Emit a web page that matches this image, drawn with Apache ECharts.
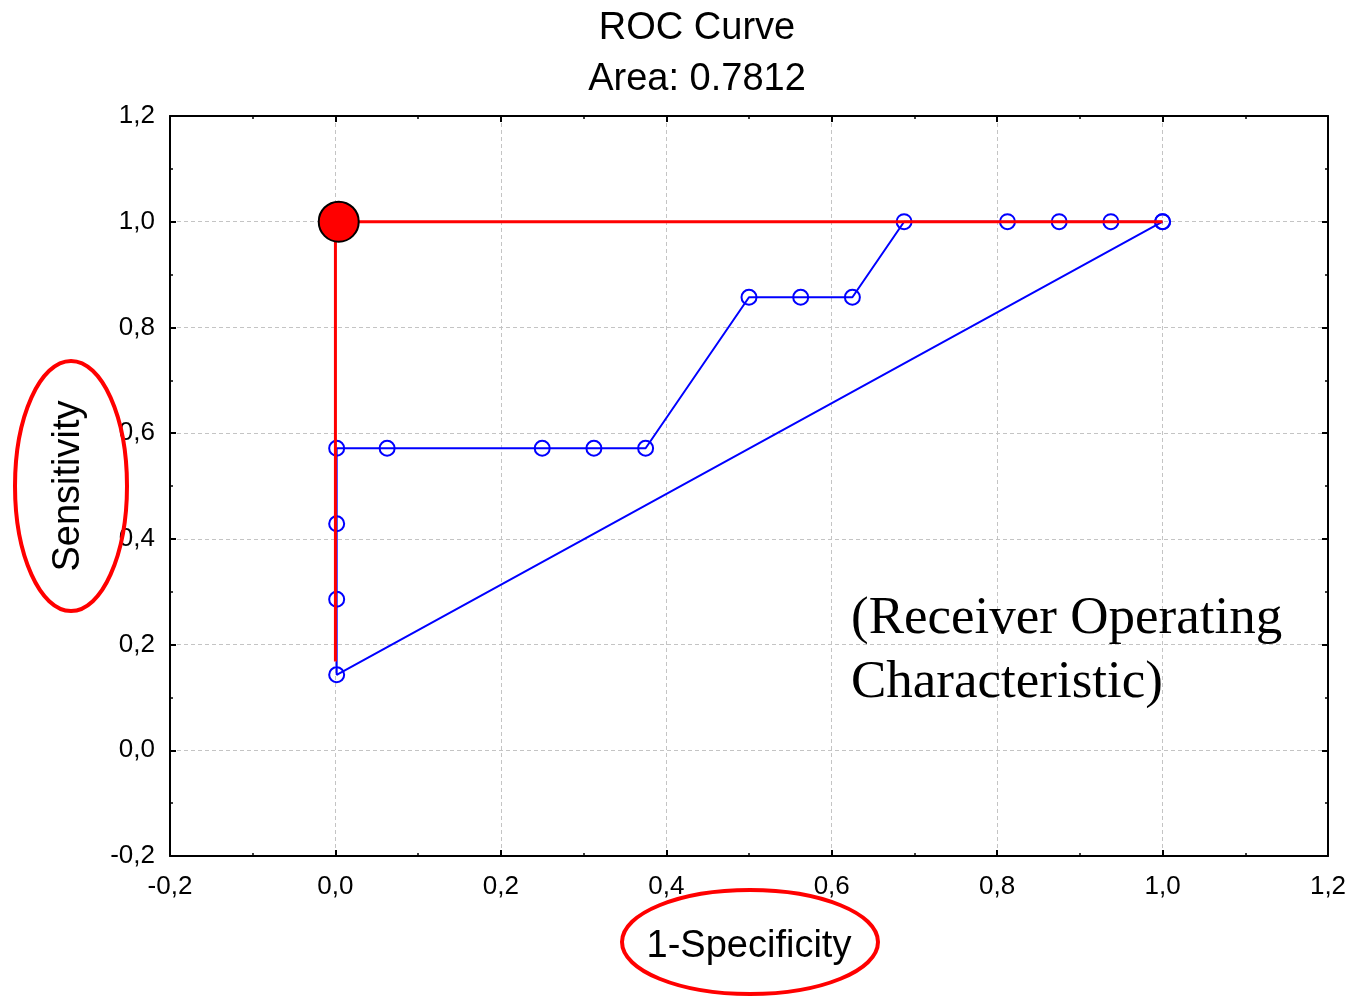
<!DOCTYPE html>
<html>
<head>
<meta charset="utf-8">
<title>ROC Curve</title>
<script src="https://cdn.jsdelivr.net/npm/echarts@6/dist/echarts.min.js"></script>
<style>
  html, body { margin: 0; padding: 0; background: #ffffff; }
  #chart { width: 1352px; height: 996px; }
</style>
</head>
<body>
<div id="chart"></div>
<script>
// ROC operating points: 1-Specificity (x) and Sensitivity (y), in plotting order
const rocFpr  = [1.0, 0.9375, 0.875, 0.8125, 0.6875, 0.625, 0.5625, 0.5, 0.375, 0.3125, 0.25, 0.0625, 0.0015, 0.0015, 0.0015, 0.0015, 1.0];
const rocTpr  = [1.0, 1.0, 1.0, 1.0, 1.0, 0.8571, 0.8571, 0.8571, 0.5714, 0.5714, 0.5714, 0.5714, 0.5714, 0.4286, 0.2857, 0.1429, 1.0];

// Ideal classifier path and its optimal point
const idealX = [0.0, 0.0, 1.0];
const idealY = [0.168, 1.0, 1.0];
const optimalPoint = [0.004, 1.0];

// Axis ranges and ticks
const axisMin = -0.2;
const axisMax = 1.2;
const axisStep = 0.2;

const titleLines = ['ROC Curve', 'Area: 0.7812'];
const xName = '1-Specificity';
const yName = 'Sensitivity';
const noteLines = ['(Receiver Operating', 'Characteristic)'];

const fmt = v => v.toFixed(1).replace('.', ',');
const sans = '"Liberation Sans", Arial, sans-serif';

const rocData = rocFpr.map((x, i) => [x, rocTpr[i]]);
const idealData = idealX.map((x, i) => [x, idealY[i]]);

function axis(pos, primary) {
  return {
    type: 'value',
    position: pos,
    min: axisMin,
    max: axisMax,
    interval: axisStep,
    axisLine: { show: true, onZero: false, lineStyle: { color: '#000', width: 2 } },
    axisTick: { show: true, inside: true, length: 6, lineStyle: { color: '#000', width: 2 } },
    minorTick: { show: true, splitNumber: 2, length: 3, lineStyle: { color: '#000', width: 1.5 } },
    axisLabel: {
      show: primary,
      formatter: fmt,
      fontFamily: sans,
      fontSize: 26,
      color: '#000'
    },
    splitLine: {
      show: primary,
      lineStyle: { color: '#c4c4c4', width: 1, type: [4, 3] }
    }
  };
}

const xBottom = axis('bottom', true);
xBottom.axisLabel.margin = 18;
xBottom.name = xName;
xBottom.nameLocation = 'middle';
xBottom.nameGap = 72;
xBottom.nameTextStyle = { fontFamily: sans, fontSize: 38, color: '#000' };

const yLeft = axis('left', true);
yLeft.axisLabel.margin = 15;
yLeft.name = yName;
yLeft.nameLocation = 'middle';
yLeft.nameGap = 82;
yLeft.nameTextStyle = { fontFamily: sans, fontSize: 38, color: '#000' };

const chart = echarts.init(document.getElementById('chart'), null, { renderer: 'canvas' });

chart.setOption({
  animation: false,
  backgroundColor: '#ffffff',
  title: {
    text: titleLines.join('\n'),
    left: 692,
    top: -2,
    textAlign: 'center',
    textStyle: { fontFamily: sans, fontSize: 38, fontWeight: 'normal', color: '#000', lineHeight: 51 }
  },
  grid: { left: 170, right: 24, top: 116, bottom: 140, containLabel: false },
  xAxis: [xBottom, axis('top', false)],
  yAxis: [yLeft, axis('right', false)],
  series: [
    {
      type: 'line',
      data: rocData,
      z: 2,
      symbol: 'circle',
      symbolSize: 15,
      showAllSymbol: true,
      itemStyle: { color: 'rgba(0,0,0,0)', borderColor: '#0000ff', borderWidth: 2 },
      lineStyle: { color: '#0000ff', width: 2 }
    },
    {
      type: 'line',
      data: idealData,
      z: 3,
      symbol: 'none',
      lineStyle: { color: '#ff0000', width: 3 }
    },
    {
      type: 'scatter',
      data: [optimalPoint],
      z: 4,
      symbol: 'circle',
      symbolSize: 40,
      itemStyle: { color: '#ff0000', opacity: 1, borderColor: '#000', borderWidth: 2 }
    }
  ],
  graphic: [
    {
      type: 'text',
      left: 851,
      top: 587,
      z: 10,
      style: {
        text: noteLines.join('\n'),
        font: '53px "Liberation Serif", "Times New Roman", serif',
        fill: '#000',
        lineHeight: 64
      }
    },
    {
      type: 'ellipse',
      z: 10,
      shape: { cx: 71, cy: 486, rx: 56, ry: 125 },
      style: { fill: 'none', stroke: '#ff0000', lineWidth: 4 }
    },
    {
      type: 'ellipse',
      z: 10,
      shape: { cx: 750, cy: 942, rx: 128, ry: 52 },
      style: { fill: 'none', stroke: '#ff0000', lineWidth: 4 }
    }
  ]
});
</script>
</body>
</html>
